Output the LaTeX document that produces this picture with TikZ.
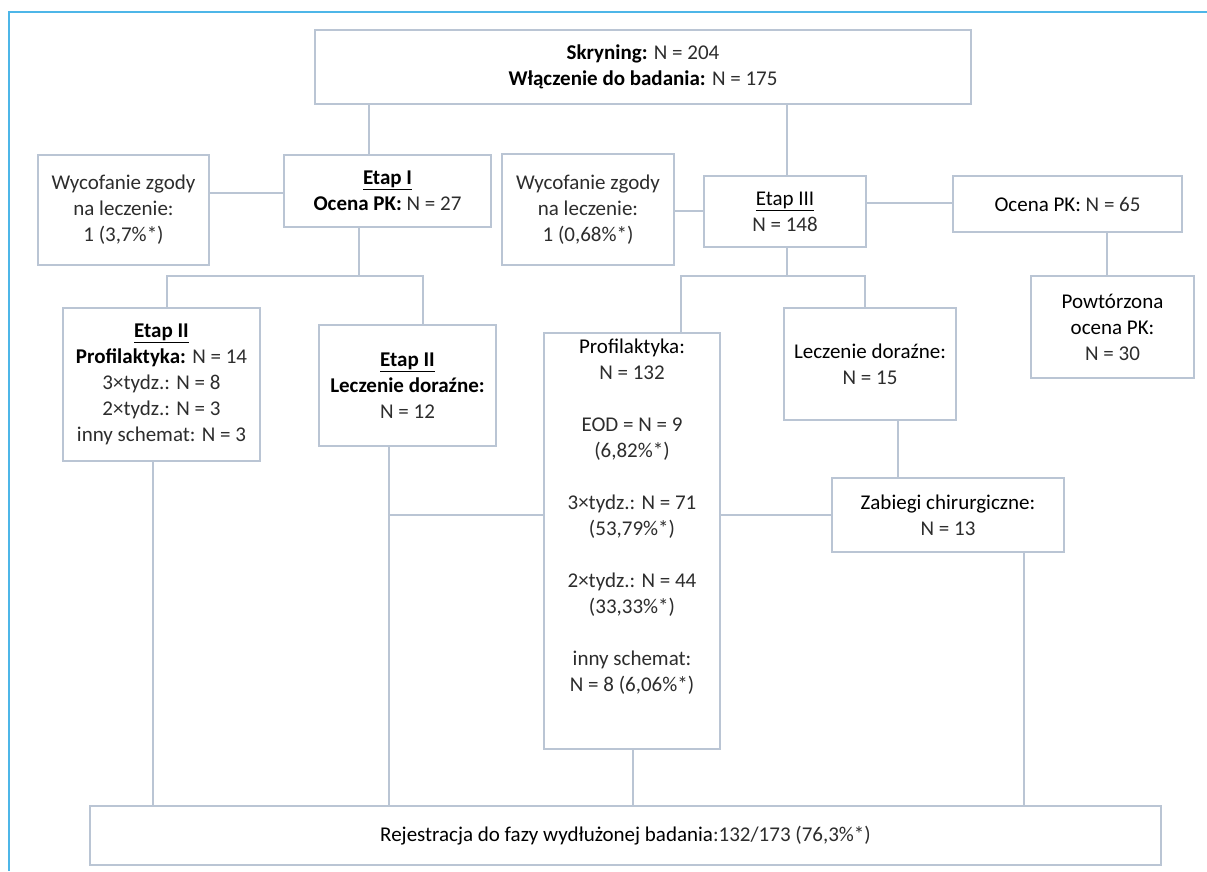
\documentclass[tikz,border=0pt]{standalone}
\usepackage{fontspec}
\setmainfont{Carlito}
\definecolor{edgec}{RGB}{186,197,212}
\definecolor{framec}{RGB}{77,182,232}
\definecolor{lightc}{RGB}{45,45,45}
\newcommand{\lgt}[1]{{\color{lightc}#1}}
\newcommand{\etap}[1]{\underline{\textbf{#1}}}
\tikzset{
  box/.style={draw=edgec, line width=2.8pt, rectangle, inner sep=0pt, align=center,
    font=\fontsize{21}{26}\selectfont, text=black},
  conn/.style={draw=edgec, line width=2.8pt},
  frame/.style={draw=framec, line width=2.2pt}
}
\begin{document}
\begin{tikzpicture}[x=1pt,y=-1pt]
\useasboundingbox (0,0) rectangle (1207,871);
\fill[white] (0,0) rectangle (1207,871);
\draw[frame] (1207,12) -- (9,12) -- (9,871);

\node[box, minimum width=656, minimum height=74] (top) at (643,67)
  {\textbf{Skryning:} \lgt{N = 204}\\ \textbf{Włączenie do badania:} \lgt{N = 175}};
\node[box, minimum width=171, minimum height=110] (w1) at (123.5,210)
  {\lgt{Wycofanie zgody}\\ \lgt{na leczenie:}\\ \lgt{1 (3,7\%*)}};
\node[box, minimum width=207, minimum height=72] (e1) at (387.5,191)
  {\etap{Etap I}\\ \textbf{Ocena PK:} \lgt{N = 27}};
\node[box, minimum width=197, minimum height=153] (e2a) at (161.5,384.5)
  {\etap{Etap II}\\ \textbf{Profilaktyka:} \lgt{N = 14}\\ \lgt{3×tydz.: N = 8}\\ \lgt{2×tydz.: N = 3}\\ \lgt{inny schemat: N = 3}};
\node[box, minimum width=177, minimum height=121] (e2b) at (407.5,385.5)
  {\etap{Etap II}\\ \textbf{Leczenie doraźne:}\\ \lgt{N = 12}};
\node[box, minimum width=172, minimum height=111] (w2) at (588,209.5)
  {\lgt{Wycofanie zgody}\\ \lgt{na leczenie:}\\ \lgt{1 (0,68\%*)}};
\node[box, minimum width=162, minimum height=71] (e3) at (785,211.5)
  {\underline{Etap III}\\ \lgt{N = 148}};
\node[box, minimum width=229, minimum height=56] (oc) at (1067.5,204)
  {Ocena PK: \lgt{N = 65}};
\node[box, minimum width=163, minimum height=102] (pow) at (1112.5,327)
  {Powtórzona\\ ocena PK:\\ \lgt{N = 30}};
\node[box, minimum width=176, minimum height=416] (prof) at (632,541)
  {Profilaktyka:\\ \lgt{N = 132}\\[26pt] \lgt{EOD = N = 9}\\ \lgt{(6,82\%*)}\\[26pt]
   \lgt{3×tydz.: N = 71}\\ \lgt{(53,79\%*)}\\[26pt] \lgt{2×tydz.: N = 44}\\ \lgt{(33,33\%*)}\\[26pt]
   \lgt{inny schemat:}\\ \lgt{N = 8 (6,06\%*)}\\[26pt] \mbox{}};
\node[box, minimum width=172, minimum height=112] (lecz) at (870,364)
  {Leczenie doraźne:\\ \lgt{N = 15}};
\node[box, minimum width=232, minimum height=74] (zab) at (948,515)
  {Zabiegi chirurgiczne:\\ \lgt{N = 13}};
\node[box, minimum width=1071, minimum height=59] (reg) at (625.5,835.5)
  {Rejestracja do fazy wydłużonej badania\lgt{:132/173 (76,3\%*)}};

\coordinate (j1) at (389,515);

% connectors
\draw[conn] (top.south -| 369,0) -- (e1.north -| 369,0);
\draw[conn] (top.south -| 787,0) -- (e3.north -| 787,0);
\draw[conn] (w1.east |- 0,193) -- (e1.west |- 0,193);
\draw[conn] (e1.south -| 359,0) -- (359,276);
\draw[conn] (e2a.north -| 167,0) -- (167,276) -- (423,276) -- (e2b.north -| 423,0);
\draw[conn] (w2.east |- 0,211) -- (e3.west |- 0,211);
\draw[conn] (e3.east |- 0,203) -- (oc.west |- 0,203);
\draw[conn] (e3.south -| 787,0) -- (787,276);
\draw[conn] (prof.north -| 681,0) -- (681,276) -- (865,276) -- (lecz.north -| 865,0);
\draw[conn] (oc.south -| 1107,0) -- (pow.north -| 1107,0);
\draw[conn] (lecz.south -| 898,0) -- (zab.north -| 898,0);
\draw[conn] (e2a.south -| 153,0) -- (reg.north -| 153,0);
\draw[conn] (e2b.south -| 389,0) -- (reg.north -| 389,0);
\draw[conn] (j1) -- (prof.west |- j1);
\draw[conn] (prof.east |- j1) -- (zab.west |- j1);
\draw[conn] (prof.south -| 633,0) -- (reg.north -| 633,0);
\draw[conn] (zab.south -| 1024,0) -- (reg.north -| 1024,0);
\end{tikzpicture}
\end{document}
